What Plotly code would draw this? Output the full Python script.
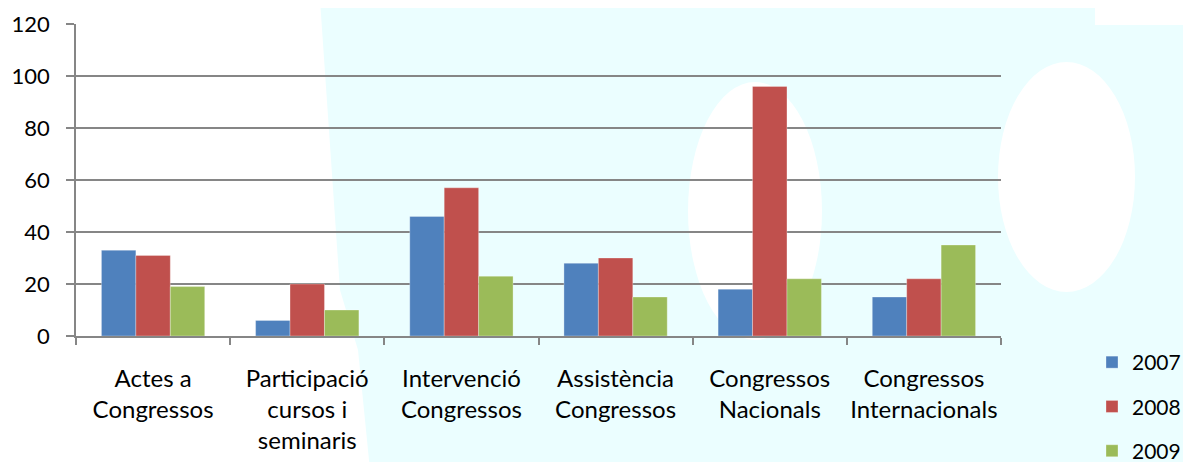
import plotly.graph_objects as go

categories = ["Actes a<br>Congressos", "Participació<br>cursos i<br>seminaris", "Intervenció<br>Congressos",
              "Assistència<br>Congressos", "Congressos<br>Nacionals", "Congressos<br>Internacionals"]
series_names = ["2007", "2008", "2009"]
values_2007 = [33, 6, 46, 28, 18, 15]
values_2008 = [31, 20, 57, 30, 96, 22]
values_2009 = [19, 10, 23, 15, 22, 35]
y_ticks = [0, 20, 40, 60, 80, 100, 120]

colors = ["#4F81BD", "#C0504D", "#9BBB59"]
FONT = "Lato"

fig = go.Figure()
for name, vals, col in zip(series_names, [values_2007, values_2008, values_2009], colors):
    fig.add_trace(go.Bar(x=categories, y=vals, name=name, legendgroup=name,
                         marker=dict(color=col, line=dict(color="rgba(255,255,255,0.5)", width=0.6))))

# page body has an 8px margin, so the figure is shrunk by 16px and positions are in screen px - 8
OFF = 8
W, H = 1191 - 2 * OFF, 470 - 2 * OFF
L, T = 76 - OFF, 24 - OFF
R = W - (1001 - OFF)
B = H - (336 - OFF)
PW, PH = W - L - R, H - T - B
cyan = "#EBFEFF"

def px(xs):
    return (xs - OFF - L) / PW

def py(ys):
    return (H - B - (ys - OFF)) / PH

shapes = [
    dict(type="path", xref="paper", yref="paper", layer="below", line=dict(width=0), fillcolor=cyan,
         path=f"M {px(320)} {py(0)} L {px(1191)} {py(0)} L {px(1191)} {py(470)} L {px(370)} {py(470)} "
              f"L {px(358)} {py(350)} L {px(340)} {py(290)} Z"),
    dict(type="circle", xref="paper", yref="paper", layer="below", line=dict(width=0), fillcolor="white",
         x0=px(998), x1=px(1135), y0=py(292), y1=py(62)),
    dict(type="circle", xref="paper", yref="paper", layer="below", line=dict(width=0), fillcolor="white",
         x0=px(688), x1=px(822), y0=py(340), y1=py(82)),
    dict(type="rect", xref="paper", yref="paper", layer="below", line=dict(width=0), fillcolor="white",
         x0=px(1095), x1=px(1191), y0=py(25), y1=py(0)),
]

fig.update_layout(
    width=W, height=H,
    margin=dict(l=L, r=R, t=T, b=B, pad=0, autoexpand=False),
    paper_bgcolor="white",
    plot_bgcolor="rgba(0,0,0,0)",
    barmode="group",
    bargap=0.33,
    bargroupgap=0,
    font=dict(family=FONT, size=22, color="black"),
    shapes=shapes,
    showlegend=True,
    legend=dict(xref="container", yref="container", x=(1092 - OFF) / W, y=1 - (342 - OFF) / H,
                xanchor="left", yanchor="top",
                font=dict(family=FONT, size=21), tracegroupgap=14,
                bgcolor="rgba(0,0,0,0)", itemwidth=30),
    xaxis=dict(type="category", tickson="boundaries", ticks="outside", ticklen=7, tickangle=0,
               tickcolor="#868686", tickwidth=1.5, showline=True, linecolor="#868686", linewidth=1.5,
               showgrid=False, tickfont=dict(family=FONT, size=24), automargin=False,
               ticklabelstandoff=20),
    yaxis=dict(range=[0, 120], tickvals=y_ticks, ticks="outside", ticklen=8, tickcolor="#868686",
               tickwidth=1.5, showline=True, linecolor="#868686", linewidth=1.5,
               showgrid=True, gridcolor="#868686", gridwidth=1.5, zeroline=False,
               tickfont=dict(family=FONT, size=22), automargin=False, ticklabelstandoff=12),
)

fig.write_html("out.html")
